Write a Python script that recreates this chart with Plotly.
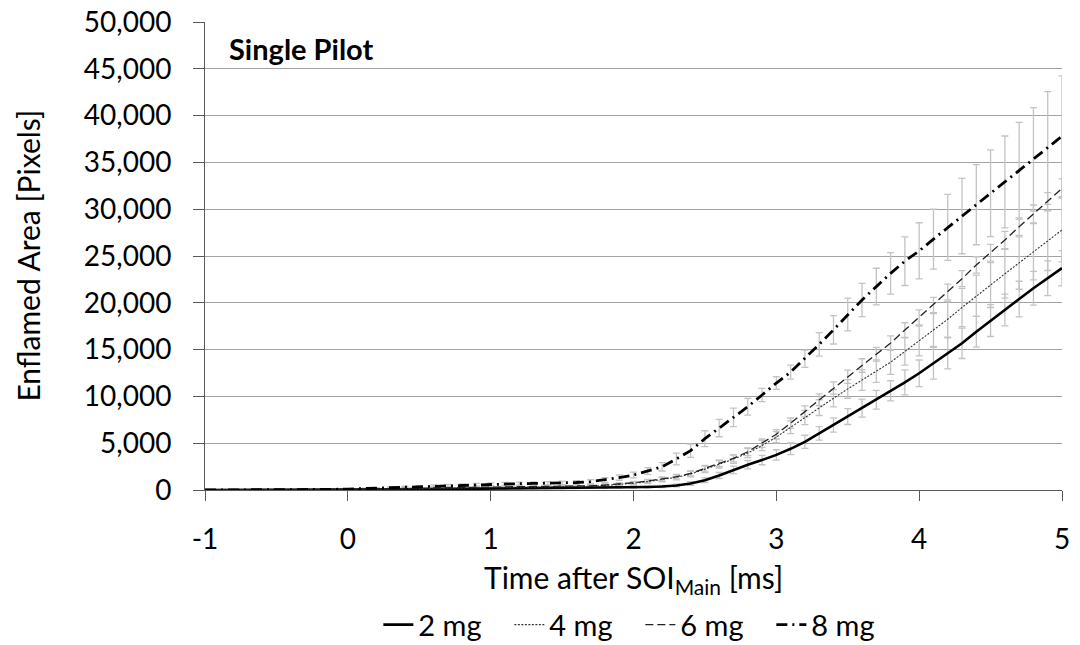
import plotly.graph_objects as go

time_ms = [-1.0, -0.9, -0.8, -0.7, -0.6, -0.5, -0.4, -0.3, -0.2, -0.1,
           0.0, 0.1, 0.2, 0.3, 0.4, 0.5, 0.6, 0.7, 0.8, 0.9,
           1.0, 1.1, 1.2, 1.3, 1.4, 1.5, 1.6, 1.7, 1.8, 1.9,
           2.0, 2.1, 2.2, 2.3, 2.4, 2.5, 2.6, 2.7, 2.8, 2.9,
           3.0, 3.1, 3.2, 3.3, 3.4, 3.5, 3.6, 3.7, 3.8, 3.9,
           4.0, 4.1, 4.2, 4.3, 4.4, 4.5, 4.6, 4.7, 4.8, 4.9,
           5.0]

area_2mg = [0, 0, 0, 0, 0, 5, 5, 10, 10, 15,
            20, 30, 40, 50, 60, 80, 90, 100, 120, 130,
            150, 160, 170, 180, 190, 200, 210, 220, 240, 260,
            290, 320, 370, 480, 700, 1050, 1550, 2150, 2700, 3200,
            3750, 4400, 5150, 6050, 6950, 7850, 8750, 9650, 10600, 11500,
            12470, 13540, 14600, 15670, 16910, 18100, 19230, 20400, 21550, 22620,
            23700]
err_2mg = [0, 0, 0, 0, 0, 5, 5, 5, 10, 10,
           10, 15, 15, 20, 20, 25, 25, 30, 30, 35,
           35, 40, 40, 45, 45, 50, 50, 55, 60, 70,
           80, 100, 120, 150, 200, 250, 320, 400, 450, 500,
           550, 620, 700, 730, 760, 850, 960, 1000, 1070, 1330,
           1420, 1690, 1650, 1620, 1640, 1700, 1700, 1900, 1800, 1850,
           1880]

area_4mg = [0, 0, 0, 0, 5, 5, 10, 15, 20, 30,
            40, 60, 80, 100, 120, 140, 160, 180, 200, 220,
            240, 260, 270, 280, 300, 320, 350, 400, 480, 580,
            720, 900, 1100, 1350, 1700, 2200, 2750, 3300, 3950, 4750,
            5650, 6700, 7750, 8800, 9800, 10800, 11750, 12700, 13650, 14800,
            15920, 17090, 18240, 19500, 20750, 21900, 23100, 24250, 25450, 26650,
            27780]
err_4mg = [0, 0, 0, 0, 5, 5, 5, 10, 10, 15,
           20, 25, 30, 35, 40, 45, 50, 55, 60, 65,
           70, 75, 80, 85, 90, 95, 100, 110, 120, 140,
           160, 190, 220, 260, 300, 350, 400, 450, 500, 550,
           600, 680, 760, 840, 920, 1000, 1100, 1200, 1300, 1450,
           1600, 1750, 1900, 2050, 2200, 2400, 2600, 2800, 3000, 3200,
           3400]

area_6mg = [0, 0, 0, 5, 5, 10, 15, 20, 30, 45,
            60, 90, 120, 150, 180, 210, 240, 270, 300, 320,
            340, 350, 360, 370, 380, 400, 420, 450, 530, 640,
            780, 960, 1180, 1420, 1780, 2320, 2850, 3380, 4090, 4990,
            5950, 7150, 8400, 9650, 10900, 12100, 13300, 14500, 15700, 17090,
            18450, 19770, 21150, 22580, 24040, 25350, 26710, 28130, 29490, 30800,
            32230]
err_6mg = [0, 0, 0, 5, 5, 5, 10, 10, 15, 20,
           25, 30, 35, 40, 45, 50, 55, 60, 65, 70,
           75, 80, 85, 90, 95, 100, 105, 110, 120, 130,
           150, 180, 210, 240, 270, 300, 340, 380, 420, 460,
           500, 540, 580, 620, 660, 700, 720, 740, 760, 780,
           800, 820, 840, 860, 880, 900, 920, 940, 960, 980,
           1000]

area_8mg = [0, 0, 0, 5, 10, 15, 20, 30, 45, 70,
            100, 150, 200, 260, 320, 380, 440, 500, 540, 580,
            620, 650, 680, 700, 720, 750, 800, 890, 1070, 1320,
            1600, 2030, 2480, 3310, 4200, 5480, 6620, 7760, 8900, 10150,
            11430, 12600, 14030, 15560, 17110, 18740, 20300, 21730, 23150, 24450,
            25550, 26800, 28060, 29270, 30480, 31700, 32910, 34110, 35330, 36540,
            37800]
err_8mg = [0, 0, 0, 5, 5, 10, 10, 15, 20, 30,
           40, 50, 60, 70, 80, 90, 100, 110, 120, 130,
           140, 150, 160, 170, 180, 190, 200, 210, 250, 280,
           300, 350, 450, 620, 710, 850, 930, 980, 890, 710,
           670, 750, 920, 1250, 1510, 1750, 1780, 1960, 2220, 2600,
           3000, 3210, 3530, 4030, 4280, 4630, 4910, 5170, 5520, 6020,
           6450]

series_names = ["2 mg", "4 mg", "6 mg", "8 mg"]
series_values = [area_2mg, area_4mg, area_6mg, area_8mg]
series_errors = [err_2mg, err_4mg, err_6mg, err_8mg]
line_styles = [
    dict(color="#000000", width=2.6, dash="solid"),
    dict(color="#333333", width=1.1, dash="2px,1.5px"),
    dict(color="#222222", width=1.3, dash="8px,4px"),
    dict(color="#000000", width=2.8, dash="11px,5px,2px,5px"),
]

y_ticks = [0, 5000, 10000, 15000, 20000, 25000, 30000, 35000, 40000, 45000, 50000]
x_ticks = [-1, 0, 1, 2, 3, 4, 5]

FONT = "Lato"

fig = go.Figure()

# error bars first (behind the lines)
for name, vals, errs in zip(series_names, series_values, series_errors):
    fig.add_trace(go.Scatter(
        x=time_ms, y=vals, mode="markers",
        marker=dict(size=1, color="rgba(0,0,0,0)"),
        error_y=dict(type="data", array=errs, visible=True,
                     color="#c3c3c3", thickness=1.3, width=3.5),
        showlegend=False, hoverinfo="skip",
    ))

for name, vals, style in zip(series_names, series_values, line_styles):
    fig.add_trace(go.Scatter(
        x=time_ms, y=vals, mode="lines", name=name,
        line=style,
    ))

fig.update_layout(
    width=1080, height=645,
    margin=dict(l=205, r=18, t=22, b=155, autoexpand=False),
    paper_bgcolor="white", plot_bgcolor="white",
    font=dict(family=FONT, size=28, color="#000000"),
    showlegend=True,
    legend=dict(orientation="h", x=0.508, xanchor="center",
                y=-0.288, yanchor="middle",
                font=dict(family=FONT, size=29, color="#000000"),
                entrywidth=86, entrywidthmode="pixels",
                tracegroupgap=0,
                bgcolor="rgba(0,0,0,0)"),
    xaxis=dict(range=[-1, 5], tickmode="array", tickvals=x_ticks,
               ticktext=[str(v) for v in x_ticks],
               automargin=False,
               showgrid=False, zeroline=False,
               showline=True, linecolor="#595959", linewidth=1,
               ticks="outside", ticklen=10, tickcolor="#595959",
               ticklabelstandoff=14,
               tickfont=dict(family=FONT, size=28, color="#000000")),
    yaxis=dict(range=[0, 50000], tickmode="array", tickvals=y_ticks,
               ticktext=[f"{v:,}" for v in y_ticks],
               automargin=False,
               showgrid=True, gridcolor="#a3a3a3", gridwidth=1,
               zeroline=False,
               showline=True, linecolor="#595959", linewidth=1,
               ticks="outside", ticklen=11, tickcolor="#595959",
               ticklabelstandoff=16,
               tickfont=dict(family=FONT, size=28, color="#000000")),
    annotations=[
        dict(text="<b>Single Pilot</b>", xref="paper", yref="paper",
             x=0.026, y=0.944, xanchor="left", yanchor="middle",
             showarrow=False, font=dict(family=FONT, size=29, color="#000000")),
        dict(text="Time after SOI<sub>Main</sub> [ms]", xref="paper", yref="paper",
             x=0.5, y=-0.19, xanchor="center", yanchor="middle",
             showarrow=False, font=dict(family=FONT, size=30, color="#000000")),
        dict(text="Enflamed Area [Pixels]", xref="paper", yref="paper",
             x=-0.207, y=0.5, xanchor="center", yanchor="middle", textangle=-90,
             showarrow=False, font=dict(family=FONT, size=30, color="#000000")),
    ],
)

fig.write_html("out.html")
